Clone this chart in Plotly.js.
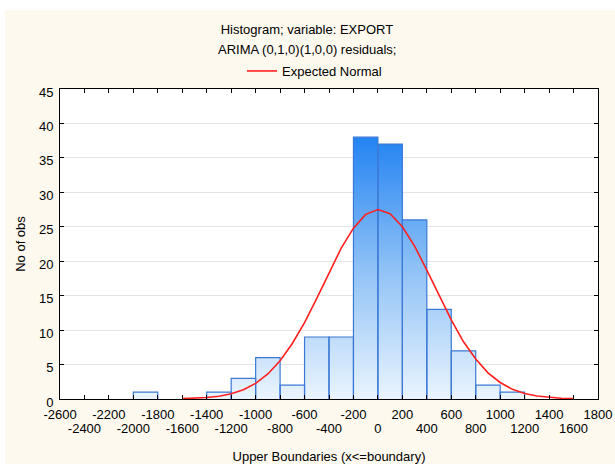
<!DOCTYPE html>
<html>
<head>
<meta charset="utf-8">
<script src="https://cdn.plot.ly/plotly-3.0.1.min.js"></script>
<style>
  html, body { margin: 0; padding: 0; background: #ffffff; width: 615px; height: 464px; overflow: hidden; }
  #chart { position: absolute; left: 5px; top: 10px; width: 610px; height: 454px; }
</style>
</head>
<body>
<div id="chart"></div>
<script>
// ---- data ----
const binUpper = [-1800, -1200, -1000, -800, -600, -400, -200, 0, 200, 400, 600, 800, 1000, 1200];
const binCounts = [1, 1, 3, 6, 2, 9, 9, 38, 37, 26, 13, 7, 2, 1];
const binWidth = 200;

const normalX = [-1600, -1500, -1400, -1300, -1200, -1100, -1000, -900, -800, -700, -600, -500, -400, -300, -200, -100, 0,
                 100, 200, 300, 400, 500, 600, 700, 800, 900, 1000, 1100, 1200, 1300, 1400, 1500, 1600];
const normalY = [0.05, 0.10, 0.21, 0.41, 0.76, 1.35, 2.27, 3.64, 5.55, 8.06, 11.1, 14.6, 18.3, 21.9, 24.8, 26.8, 27.5,
                 26.9, 25.0, 22.2, 18.7, 15.0, 11.5, 8.3, 5.8, 3.8, 2.4, 1.4, 0.8, 0.44, 0.23, 0.11, 0.05];

const xTickRow1 = [-2600, -2200, -1800, -1400, -1000, -600, -200, 200, 600, 1000, 1400, 1800];
const xTickRow2 = [-2400, -2000, -1600, -1200, -800, -400, 0, 400, 800, 1200, 1600];

const titleLine1 = 'Histogram; variable: EXPORT';
const titleLine2 = 'ARIMA (0,1,0)(1,0,0) residuals;';
const xTitle = 'Upper Boundaries (x<=boundary)';
const yTitle = 'No of obs';
const curveName = 'Expected Normal';

// ---- build histogram outline polygons (one closed shape per bin) ----
const px = [], py = [];
binUpper.forEach((u, i) => {
  const lo = u - binWidth;
  px.push(lo, lo, u, u, null);
  py.push(0, binCounts[i], binCounts[i], 0, null);
});

const allTicks = xTickRow1.concat(xTickRow2).sort((a, b) => a - b);
const allTickText = allTicks.map(v => xTickRow1.includes(v) ? String(v) : '');

const FONT = 'Liberation Sans, Arial, sans-serif';
const xRange = [-2600, 1800];

const traces = [
  {
    type: 'scatter', mode: 'lines', x: px, y: py,
    fill: 'toself',
    fillgradient: { type: 'vertical', start: 0, stop: 38,
      colorscale: [[0, '#eaf4fe'], [0.5, '#8fc1f6'], [1, '#2383f2']] },
    line: { color: '#3b79d6', width: 1.2 },
    connectgaps: false, showlegend: false, hoverinfo: 'skip'
  },
  {
    type: 'scatter', mode: 'lines', x: normalX, y: normalY, name: curveName,
    xaxis: 'x2',
    line: { color: '#ff1f1f', width: 1.6 }
  }
];

const layout = {
  width: 610, height: 454,
  paper_bgcolor: '#fdf9ee', plot_bgcolor: '#ffffff',
  margin: { l: 55, r: 17, t: 79, b: 65 },
  font: { family: FONT, size: 13, color: '#000000' },
  title: { text: titleLine1, x: 0.495, xref: 'container', xanchor: 'center',
           y: 1 - 19 / 454, yref: 'container', yanchor: 'middle',
           font: { family: FONT, size: 13, color: '#000' } },
  annotations: [
    { text: titleLine2, xref: 'paper', yref: 'paper', x: (302 - 55) / 538, y: 1 + (79 - 39) / 310,
      xanchor: 'center', yanchor: 'middle', showarrow: false, font: { family: FONT, size: 13, color: '#000' } }
  ],
  showlegend: true,
  legend: { orientation: 'h', x: (237 - 55) / 538, xanchor: 'left', y: 1 + (79 - 61) / 310, yanchor: 'middle',
            bgcolor: 'rgba(0,0,0,0)', font: { family: FONT, size: 13, color: '#000' } },
  xaxis: {
    range: xRange, tickmode: 'array', tickvals: allTicks, ticktext: allTickText,
    ticks: 'inside', ticklen: 4, tickcolor: '#000', showline: true, linecolor: '#000', linewidth: 1,
    mirror: 'ticks', showgrid: false, zeroline: false, ticklabelstandoff: 3,
    tickfont: { family: FONT, size: 13, color: '#000' },
    title: { text: xTitle, standoff: 33, font: { family: FONT, size: 13, color: '#000' } }
  },
  xaxis2: {
    range: xRange, overlaying: 'x', anchor: 'y', side: 'bottom',
    tickmode: 'array', tickvals: xTickRow2, ticktext: xTickRow2.map(String),
    ticks: '', showline: false, showgrid: false, zeroline: false, ticklabelstandoff: 20,
    tickfont: { family: FONT, size: 13, color: '#000' }
  },
  yaxis: {
    range: [0, 45], dtick: 5, ticks: 'inside', ticklen: 4, tickcolor: '#000',
    showline: true, linecolor: '#000', linewidth: 1, mirror: 'ticks',
    showgrid: true, gridcolor: '#e4e4e4', zeroline: false,
    ticklabelstandoff: 3, ticklabelshift: 3,
    tickfont: { family: FONT, size: 13, color: '#000' },
    title: { text: yTitle, standoff: 10, font: { family: FONT, size: 13, color: '#000' } }
  }
};

Plotly.newPlot('chart', traces, layout, { displayModeBar: false, staticPlot: true });
</script>
</body>
</html>
